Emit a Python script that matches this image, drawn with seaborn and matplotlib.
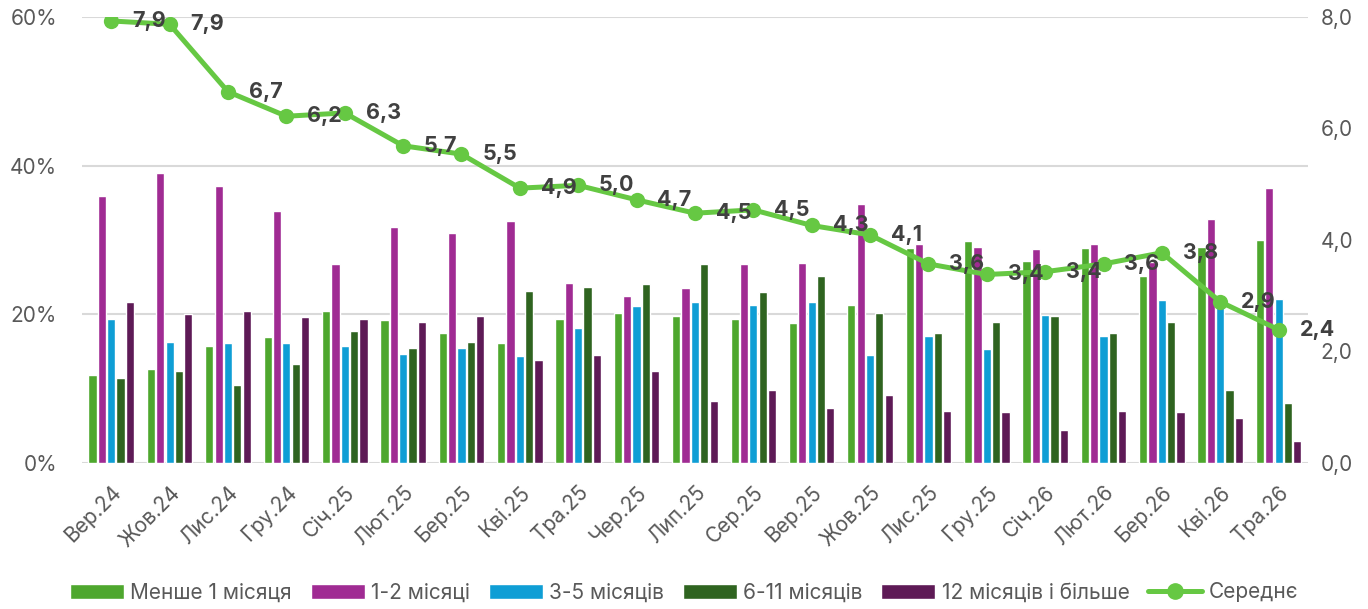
import numpy as np
import pandas as pd
import matplotlib.pyplot as plt
import seaborn as sns
from matplotlib.lines import Line2D

# Data
months = ["Вер.24", "Жов.24", "Лис.24", "Гру.24", "Січ.25", "Лют.25", "Бер.25",
          "Кві.25", "Тра.25", "Чер.25", "Лип.25", "Сер.25", "Вер.25", "Жов.25",
          "Лис.25", "Гру.25", "Січ.26", "Лют.26", "Бер.26", "Кві.26", "Тра.26"]

less_1m = [11.8, 12.6, 15.7, 16.9, 20.4, 19.2, 17.5, 16.1, 19.3, 20.2, 19.8,
           19.3, 18.8, 21.2, 28.9, 29.8, 27.1, 28.9, 25.2, 29.1, 30.0]
m1_2 = [35.9, 39.0, 37.2, 33.9, 26.7, 31.7, 30.9, 32.5, 24.2, 22.4, 23.5,
        26.7, 26.9, 34.9, 29.5, 29.1, 28.8, 29.5, 27.0, 32.8, 37.0]
m3_5 = [19.4, 16.2, 16.1, 16.1, 15.7, 14.7, 15.4, 14.4, 18.2, 21.1, 21.6,
        21.2, 21.7, 14.5, 17.1, 15.3, 19.9, 17.1, 21.9, 21.5, 22.0]
m6_11 = [11.4, 12.3, 10.5, 13.3, 17.8, 15.4, 16.3, 23.1, 23.7, 24.1, 26.8,
         23.0, 25.2, 20.2, 17.5, 18.9, 19.7, 17.5, 18.9, 9.8, 8.0]
m12_plus = [21.6, 20.0, 20.4, 19.6, 19.3, 18.9, 19.7, 13.9, 14.5, 12.3, 8.3,
            9.8, 7.4, 9.1, 7.0, 6.8, 4.4, 7.0, 6.9, 6.0, 3.0]

avg_months = [7.93, 7.87, 6.66, 6.22, 6.28, 5.69, 5.54, 4.93, 4.98, 4.72, 4.48,
              4.54, 4.26, 4.09, 3.57, 3.38, 3.43, 3.57, 3.77, 2.89, 2.39]

series_names = ["Менше 1 місяця", "1-2 місяці", "3-5 місяців", "6-11 місяців",
                "12 місяців і більше"]
avg_name = "Середнє"

colors = ["#4EA72E", "#A02B93", "#0F9ED5", "#2F6420", "#5E1A56"]
line_color = "#66C843"

# long table for seaborn
df = pd.DataFrame({"month": months})
for name, vals in zip(series_names, [less_1m, m1_2, m3_5, m6_11, m12_plus]):
    df[name] = vals
long_df = df.melt(id_vars="month", var_name="series", value_name="share")

sns.set_theme(style="white")
plt.rcParams["font.family"] = ["Inter", "DejaVu Sans"]

fig, ax = plt.subplots(figsize=(13.68, 6.09), dpi=100)
fig.subplots_adjust(left=0.06, right=0.956, top=0.972, bottom=0.24)

sns.barplot(data=long_df, x="month", y="share", hue="series",
            hue_order=series_names, palette=colors, saturation=1,
            width=0.8, gap=0.12, ax=ax, errorbar=None)

handles, labels = ax.get_legend_handles_labels()
ax.get_legend().remove()

ax.set_xlim(-0.5, len(months) - 0.5)
ax.set_ylim(0, 60)
ax.set_yticks([0, 20, 40, 60])
ax.set_yticklabels([f"{t}%" for t in [0, 20, 40, 60]])
ax.set_xlabel("")
ax.set_ylabel("")
ax.yaxis.grid(True, color="#D9D9D9", linewidth=1.5)
ax.set_axisbelow(True)
for s in ax.spines.values():
    s.set_visible(False)
ax.tick_params(axis="y", length=0, pad=18, labelsize=15, labelcolor="#595959")
ax.tick_params(axis="x", length=0, pad=14, labelsize=15, labelcolor="#595959")
for lab in ax.get_xticklabels():
    lab.set_rotation(45)
    lab.set_ha("right")
    lab.set_rotation_mode("anchor")

# average duration on the secondary axis
ax2 = ax.twinx()
sns.lineplot(x=np.arange(len(months)), y=avg_months, ax=ax2, color=line_color,
             linewidth=3.6, marker="o", markersize=11, markeredgewidth=0)
ax2.set_ylim(0, 8)
ax2.set_yticks([0, 2, 4, 6, 8])
ax2.set_yticklabels([f"{t:.1f}".replace(".", ",") for t in [0, 2, 4, 6, 8]])
for s in ax2.spines.values():
    s.set_visible(False)
ax2.tick_params(axis="y", length=0, pad=9, labelsize=15, labelcolor="#595959")
ax2.grid(False)

for i, v in enumerate(avg_months):
    ax2.annotate(f"{v:.1f}".replace(".", ","), (i, v), xytext=(15, 0),
                 textcoords="offset points", ha="left", va="center",
                 fontsize=15.5, fontweight="bold", color="#404040")

handles.append(Line2D([0], [0], color=line_color, linewidth=3.6, marker="o",
                      markersize=11))
labels.append(avg_name)
fig.legend(handles, labels, loc="lower center", bbox_to_anchor=(0.5, -0.02),
           ncol=6, frameon=False, fontsize=15, handlelength=2.6,
           handleheight=0.75, handletextpad=0.3, columnspacing=0.9,
           labelcolor="#595959")

fig.savefig("out.png", dpi=100)
